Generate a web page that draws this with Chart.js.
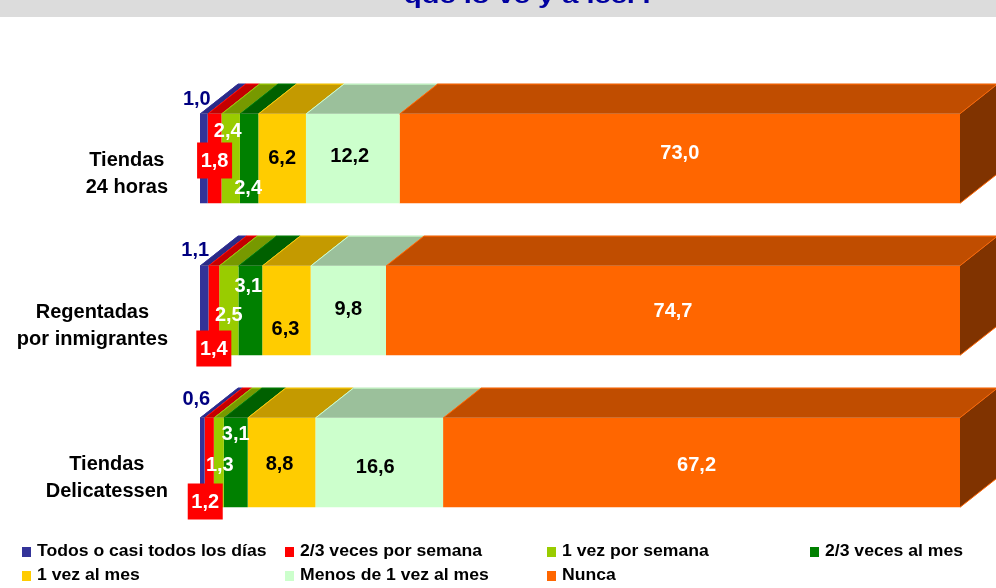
<!DOCTYPE html>
<html>
<head>
<meta charset="utf-8">
<script src="https://cdn.jsdelivr.net/npm/chart.js@4"></script>
<style>
  body { margin: 0; background: #fff; font-family: Arial, "Liberation Sans", sans-serif; }
  #wrap { position: relative; width: 996px; height: 588px; overflow: hidden; }
  #title { position: absolute; left: 0; top: 0; width: 996px; height: 17px; background: #dcdcdc; overflow: hidden; z-index: 2; }
  #title span { position: absolute; left: 0; width: 1060px; top: -15px; text-align: center; font: bold 22px Arial, "Liberation Sans", sans-serif; color: #0000a0; line-height: 22px; white-space: nowrap; transform: scaleX(1.32); transform-origin: 530px 0; }
  #legend { position: absolute; left: 0; top: 0; width: 996px; height: 588px; pointer-events: none; }
  .item { position: absolute; font: bold 16px Arial, "Liberation Sans", sans-serif; color: #000; white-space: nowrap; line-height: 18px; }
  .item i { display: inline-block; width: 9px; height: 10px; margin-right: 6px; vertical-align: -1px; }
  .item span { display: inline-block; transform: scaleX(1.1); transform-origin: 0 0; }
</style>
</head>
<body>
<div id="wrap">
  <div id="title"><span>que lo ve y a leer?</span></div>
  <canvas id="chart" width="996" height="588"></canvas>
  <div id="legend"></div>
</div>
<script>
// categories (rows, top to bottom)
const categories = [["Tiendas", "24 horas"], ["Regentadas", "por inmigrantes"], ["Tiendas", "Delicatessen"]];

// series names
const seriesNames = ["Todos o casi todos los días", "2/3 veces por semana", "1 vez por semana",
  "2/3 veces al mes", "1 vez al mes", "Menos de 1 vez al mes", "Nunca"];

// values per series (one per category)
const todosDias = [1.0, 1.1, 0.6];
const vecesSemana = [1.8, 1.4, 1.2];
const unaVezSemana = [2.4, 2.5, 1.3];
const vecesMes = [2.4, 3.1, 3.1];
const unaVezMes = [6.2, 6.3, 8.8];
const menosUnaVez = [12.2, 9.8, 16.6];
const nunca = [73.0, 74.7, 67.2];

const series = [todosDias, vecesSemana, unaVezSemana, vecesMes, unaVezMes, menosUnaVez, nunca];

const frontColors = ["#333399", "#ff0000", "#99cc00", "#008000", "#ffcc00", "#ccffcc", "#ff6600"];
const topColors = ["#2b2b86", "#c40000", "#779900", "#006000", "#c49a00", "#9bc09b", "#c04d00"];
const sideColor = "#803300";
const labelColors = ["#000080", "#ffffff", "#ffffff", "#ffffff", "#000000", "#000000", "#ffffff"];

// label nudges from the segment centre [dx, dy] per series, per row
const labelOffsets = [
  [[-7, -60], [-9, -61], [-6, -64]],
  [[0, 2], [0, 38], [-4, 39]],
  [[-3, -28], [0, 4], [1, 2]],
  [[-1, 29], [-2, -25], [0, -29]],
  [[0, -1], [-1, 18], [-2, 1]],
  [[-3, -3], [0, -2], [-4, 4]],
  [[0, -6], [0, 0], [-5, 2]]
];

const DX = 38, DY = 30;
const FONT = "bold 20px Arial, 'Liberation Sans', sans-serif";

// stacked to 100% per row, like the original
const totals = categories.map((c, i) => series.reduce((s, arr) => s + arr[i], 0));

const datasets = series.map((arr, k) => ({
  label: seriesNames[k],
  data: arr.map((v, i) => v / totals[i] * 100),
  backgroundColor: frontColors[k],
  borderWidth: 0,
  barPercentage: 0.59,
  categoryPercentage: 1
}));

const fmt = v => v.toFixed(1).replace(".", ",");

const threeD = {
  id: "threeD",
  afterDatasetsDraw(chart) {
    const ctx = chart.ctx;
    ctx.save();
    const n = chart.data.datasets.length;
    chart.data.datasets.forEach((ds, k) => {
      const meta = chart.getDatasetMeta(k);
      meta.data.forEach(bar => {
        const x0 = Math.min(bar.base, bar.x), x1 = Math.max(bar.base, bar.x);
        const top = bar.y - bar.height / 2, bottom = bar.y + bar.height / 2;
        ctx.fillStyle = topColors[k];
        ctx.beginPath();
        ctx.moveTo(x0, top);
        ctx.lineTo(x1, top);
        ctx.lineTo(x1 + DX, top - DY);
        ctx.lineTo(x0 + DX, top - DY);
        ctx.closePath();
        ctx.fill();
        ctx.strokeStyle = frontColors[k];
        ctx.lineWidth = 1;
        ctx.beginPath();
        ctx.moveTo(x0, top + 0.5);
        ctx.lineTo(x0 + DX, top - DY + 0.5);
        ctx.lineTo(x1 + DX, top - DY + 0.5);
        ctx.stroke();
        if (k === n - 1) {
          ctx.fillStyle = sideColor;
          ctx.beginPath();
          ctx.moveTo(x1, top);
          ctx.lineTo(x1 + DX, top - DY);
          ctx.lineTo(x1 + DX, bottom - DY);
          ctx.lineTo(x1, bottom);
          ctx.closePath();
          ctx.fill();
          ctx.strokeStyle = frontColors[k];
          ctx.beginPath();
          ctx.moveTo(x1, top);
          ctx.lineTo(x1 + DX, top - DY);
          ctx.moveTo(x1, bottom);
          ctx.lineTo(x1 + DX, bottom - DY);
          ctx.stroke();
        }
      });
    });
    ctx.restore();
  }
};

// category names: each block right-aligned to the axis, its lines centred
const categoryLabels = {
  id: "categoryLabels",
  afterDraw(chart) {
    const ctx = chart.ctx;
    const y = chart.scales.y;
    ctx.save();
    ctx.font = FONT;
    ctx.fillStyle = "#000";
    ctx.textAlign = "center";
    ctx.textBaseline = "middle";
    chart.data.labels.forEach((lines, i) => {
      const widest = Math.max(...lines.map(l => ctx.measureText(l).width));
      const cx = 168 - widest / 2;
      const cy = y.getPixelForTick(i) + 15;
      lines.forEach((l, j) => {
        ctx.fillText(l, cx, cy + (j - (lines.length - 1) / 2) * 27);
      });
    });
    ctx.restore();
  }
};

const valueLabels = {
  id: "valueLabels",
  afterDraw(chart) {
    const ctx = chart.ctx;
    ctx.save();
    ctx.font = FONT;
    ctx.textAlign = "center";
    ctx.textBaseline = "middle";
    chart.data.datasets.forEach((ds, k) => {
      const meta = chart.getDatasetMeta(k);
      meta.data.forEach((bar, i) => {
        const cx = (bar.base + bar.x) / 2 + labelOffsets[k][i][0];
        const cy = bar.y + labelOffsets[k][i][1];
        if (k === 1) {
          ctx.fillStyle = "#ff0000";
          ctx.fillRect(cx - 17.5, cy - 18, 35, 36);
        }
        ctx.fillStyle = labelColors[k];
        ctx.fillText(fmt(series[k][i]), cx, cy + 1);
      });
    });
    ctx.restore();
  }
};

new Chart(document.getElementById("chart"), {
  type: "bar",
  data: { labels: categories, datasets: datasets },
  options: {
    indexAxis: "y",
    responsive: false,
    animation: false,
    layout: { padding: { top: 82.5, bottom: 49.5, right: 36, left: 0 } },
    plugins: { legend: { display: false }, tooltip: { enabled: false } },
    scales: {
      x: { stacked: true, min: 0, max: 100, display: false },
      y: {
        stacked: true,
        grid: { display: false, drawTicks: false },
        border: { display: false },
        ticks: { display: false },
        afterFit: s => { s.width = 200; s.paddingTop = 0; s.paddingBottom = 0; }
      }
    }
  },
  plugins: [threeD, categoryLabels, valueLabels]
});

// legend, two rows in a grid like the original
const legendCols = [22, 285, 547, 810];
const legendRows = [542, 566];
const legend = document.getElementById("legend");
seriesNames.forEach((name, k) => {
  const el = document.createElement("div");
  el.className = "item";
  el.style.left = legendCols[k % 4] + "px";
  el.style.top = legendRows[Math.floor(k / 4)] + "px";
  el.innerHTML = '<i style="background:' + frontColors[k] + '"></i><span>' + name + '</span>';
  legend.appendChild(el);
});
</script>
</body>
</html>
